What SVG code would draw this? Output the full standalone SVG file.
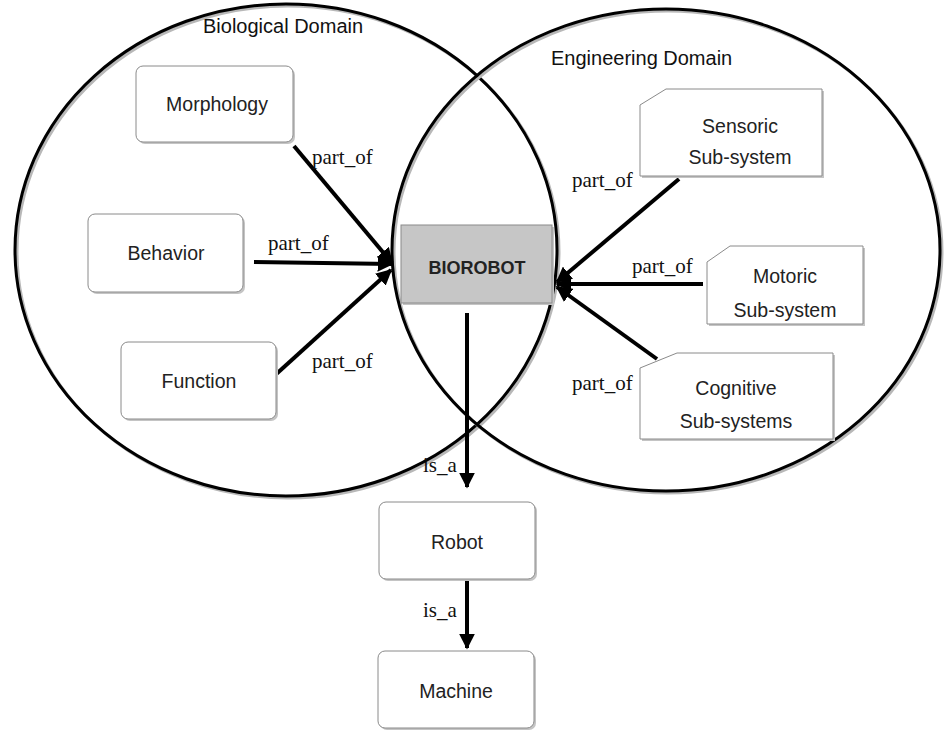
<svg xmlns="http://www.w3.org/2000/svg" width="944" height="731" viewBox="0 0 944 731">
  <style>
    .domain { fill: none; stroke: #000; stroke-width: 3; }
    .domain-shadow { fill: none; stroke: #b8b8b8; stroke-width: 3; }
    .box { fill: #fff; stroke: #8a8a8a; stroke-width: 1; }
    .shadow { fill: #c4c4c4; }
    .core { fill: #c6c6c6; stroke: #8a8a8a; stroke-width: 1; }
    .label { font-family: "Liberation Sans", Arial, sans-serif; font-size: 19.5px; fill: #222; text-anchor: middle; }
    .title { font-family: "Liberation Sans", Arial, sans-serif; font-size: 20px; fill: #111; }
    .bold { font-weight: bold; font-size: 18px; }
    .rel { font-family: "Liberation Serif", "Times New Roman", serif; font-size: 21px; fill: #111; }
    .link { stroke: #000; stroke-width: 4; fill: none; }
  </style>
  <defs>
    <marker id="head" viewBox="0 0 10 10" refX="9" refY="5" markerWidth="4" markerHeight="4" orient="auto" markerUnits="strokeWidth">
      <path d="M0,0 L10,5 L0,10 z" fill="#000"/>
    </marker>
  </defs>

  <rect width="944" height="731" fill="#fff"/>

  <!-- domain ellipses -->
  <g id="biological-domain">
    <ellipse class="domain-shadow" cx="288" cy="252" rx="271" ry="246"/>
    <ellipse class="domain" cx="286" cy="250" rx="271" ry="246"/>
    <text class="title" x="203" y="33">Biological Domain</text>
  </g>
  <g id="engineering-domain">
    <ellipse class="domain-shadow" cx="668" cy="252" rx="274" ry="241"/>
    <ellipse class="domain" cx="666" cy="250" rx="274" ry="241"/>
    <text class="title" x="551" y="65">Engineering Domain</text>
  </g>

  <!-- connectors -->
  <g id="connectors">
    <line class="link" x1="294" y1="146" x2="392" y2="263" marker-end="url(#head)"/>
    <line class="link" x1="254" y1="262" x2="392" y2="264" marker-end="url(#head)"/>
    <line class="link" x1="273" y1="377" x2="391" y2="270" marker-end="url(#head)"/>
    <line class="link" x1="679" y1="179" x2="557" y2="282" marker-end="url(#head)"/>
    <line class="link" x1="703" y1="284" x2="557" y2="284" marker-end="url(#head)"/>
    <line class="link" x1="657" y1="359" x2="557" y2="287" marker-end="url(#head)"/>
    <line class="link" x1="467" y1="313" x2="467" y2="487" marker-end="url(#head)"/>
    <line class="link" x1="467" y1="580" x2="467" y2="648" marker-end="url(#head)"/>
    <text class="rel" x="312" y="164">part_of</text>
    <text class="rel" x="268" y="250">part_of</text>
    <text class="rel" x="312" y="368">part_of</text>
    <text class="rel" x="572" y="187">part_of</text>
    <text class="rel" x="632" y="273">part_of</text>
    <text class="rel" x="572" y="390">part_of</text>
    <text class="rel" x="423" y="472">is_a</text>
    <text class="rel" x="423" y="617">is_a</text>
  </g>

  <!-- biological nodes -->
  <g id="morphology">
    <rect class="shadow" x="138" y="68" width="157" height="76" rx="7"/>
    <rect class="box" x="136" y="66" width="157" height="76" rx="7"/>
    <text class="label" x="217" y="111">Morphology</text>
  </g>
  <g id="behavior">
    <rect class="shadow" x="90" y="216" width="155" height="78" rx="7"/>
    <rect class="box" x="88" y="214" width="155" height="78" rx="7"/>
    <text class="label" x="166" y="260">Behavior</text>
  </g>
  <g id="function">
    <rect class="shadow" x="123" y="344" width="155" height="77" rx="7"/>
    <rect class="box" x="121" y="342" width="155" height="77" rx="7"/>
    <text class="label" x="199" y="388">Function</text>
  </g>

  <!-- shared node -->
  <g id="biorobot">
    <rect class="shadow" x="403" y="227" width="151" height="78"/>
    <rect class="core" x="401" y="225" width="151" height="78"/>
    <text class="label bold" x="477" y="274">BIOROBOT</text>
  </g>

  <!-- engineering nodes -->
  <g id="sensoric">
    <path class="shadow" d="M642,107 L668,91 L824,91 L824,178 L642,178 z"/>
    <path class="box" d="M640,105 L666,89 L822,89 L822,176 L640,176 z"/>
    <text class="label" x="740" y="133">Sensoric</text>
    <text class="label" x="740" y="164">Sub-system</text>
  </g>
  <g id="motoric">
    <path class="shadow" d="M709,264 L732,248 L865,248 L865,326 L709,326 z"/>
    <path class="box" d="M707,262 L730,246 L863,246 L863,324 L707,324 z"/>
    <text class="label" x="785" y="283">Motoric</text>
    <text class="label" x="785" y="317">Sub-system</text>
  </g>
  <g id="cognitive">
    <path class="shadow" d="M642,370 L679,355 L835,355 L835,441 L642,441 z"/>
    <path class="box" d="M640,368 L677,353 L833,353 L833,439 L640,439 z"/>
    <text class="label" x="736" y="395">Cognitive</text>
    <text class="label" x="736" y="428">Sub-systems</text>
  </g>

  <!-- hierarchy nodes -->
  <g id="robot">
    <rect class="shadow" x="381" y="504" width="156" height="77" rx="7"/>
    <rect class="box" x="379" y="502" width="156" height="77" rx="7"/>
    <text class="label" x="457" y="549">Robot</text>
  </g>
  <g id="machine">
    <rect class="shadow" x="380" y="653" width="156" height="77" rx="7"/>
    <rect class="box" x="378" y="651" width="156" height="77" rx="7"/>
    <text class="label" x="456" y="698">Machine</text>
  </g>
</svg>
